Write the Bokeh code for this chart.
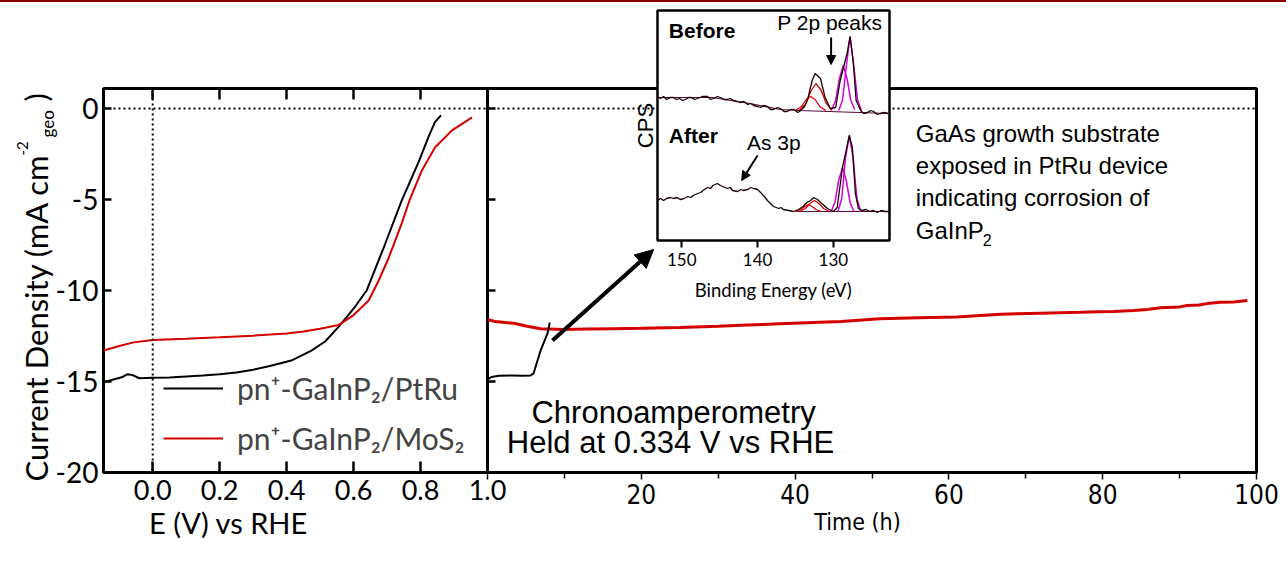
import math
from bokeh.plotting import figure
from bokeh.models import (Range1d, LinearAxis, FixedTicker, Span, Label, Legend, LegendItem,
                          Arrow, NormalHead, PrintfTickFormatter, Div)
from bokeh.embed import file_html
from bokeh.resources import INLINE

W, H = 1286, 563
MAIN_FONT = "Lato"
ARIAL = "Liberation Sans"
COND = "DejaVu Sans Condensed"
RED = "#d40000"
MAGENTA = "#d400d4"

# ---------------- J-V sweeps ----------------
jv_ptru_E = [-0.147, -0.12, -0.09, -0.075, -0.06, -0.04, 0.0, 0.05, 0.10, 0.15, 0.20, 0.25, 0.30,
             0.35, 0.414, 0.474, 0.515, 0.555, 0.60, 0.639, 0.693, 0.744, 0.795, 0.825, 0.843, 0.861]
jv_ptru_J = [-15.05, -14.9, -14.75, -14.6, -14.65, -14.82, -14.8, -14.78, -14.72, -14.67, -14.6,
             -14.5, -14.35, -14.15, -13.85, -13.3, -12.8, -12.0, -11.0, -10.0, -7.5, -5.05, -2.9,
             -1.5, -0.75, -0.38]

jv_mos2_E = [-0.147, -0.10, -0.057, 0.0, 0.10, 0.20, 0.30, 0.40, 0.45, 0.50, 0.555, 0.60, 0.645,
             0.675, 0.705, 0.744, 0.768, 0.804, 0.843, 0.894, 0.954]
jv_mos2_J = [-13.3, -13.05, -12.85, -12.72, -12.65, -12.57, -12.48, -12.36, -12.25, -12.1, -11.9,
             -11.35, -10.55, -9.45, -8.2, -6.3, -5.0, -3.4, -2.14, -1.2, -0.49]

E_ticks = [0.0, 0.2, 0.4, 0.6, 0.8, 1.0]
J_ticks = [0, -5, -10, -15, -20]

# ---------------- chronoamperometry ----------------
ca_ptru_t = [0, 0.5, 1.5, 3.0, 4.5, 5.6, 6.0, 6.9, 7.8, 8.1]
ca_ptru_J = [-14.9, -14.75, -14.68, -14.67, -14.68, -14.67, -14.55, -13.3, -12.36, -11.76]

ca_mos2_t = [0, 1, 2, 3.4, 5, 6.9, 9.9, 13, 16.4, 20, 25, 30, 33.8, 38, 42.4, 46, 51, 56, 61,
             66.7, 72, 77.1, 79.5, 81.4, 84, 85.8, 87.5, 90, 91, 92.5, 93.6, 95.3, 97, 98.8]
ca_mos2_J = [-11.6, -11.7, -11.75, -11.8, -11.95, -12.1, -12.14, -12.12, -12.1, -12.08, -12.03,
             -11.97, -11.9, -11.83, -11.76, -11.7, -11.55, -11.5, -11.45, -11.3, -11.25, -11.2,
             -11.17, -11.15, -11.1, -11.04, -10.95, -10.9, -10.82, -10.8, -10.72, -10.65, -10.63,
             -10.55]

t_ticks = [0, 20, 40, 60, 80, 100]
t_minor = [10, 30, 50, 70, 90]

# ---------------- XPS inset (P 2p region) ----------------
be_ticks = [150, 140, 130]

before_BE = [153.2, 152.8, 152.4, 152.0, 151.5, 151.1, 150.7, 150.3, 149.9, 149.5, 149.1, 148.8,
             148.3, 147.9, 147.3, 146.6, 146.2, 145.8, 145.3, 144.9, 144.4, 144.0, 143.6, 143.2,
             142.7, 142.3, 141.8, 141.3, 140.9, 140.5, 140.0, 139.6, 139.2, 138.7, 138.3, 137.9,
             137.4, 137.0, 136.5, 136.1, 135.6, 135.2, 134.7, 134.3, 133.8, 133.4, 132.8, 132.4,
             131.7, 131.1, 130.4, 129.7, 129.1, 128.6, 128.2, 127.8, 127.4, 127.0, 126.4, 126.0,
             125.5, 125.1, 124.7, 124.2, 123.8, 123.3, 122.8]
before_cps = [144, 142, 144, 141, 143, 143, 141, 142, 140, 141, 143, 143, 141, 142, 144, 144, 141,
              142, 144, 143, 141, 141, 142, 140, 139, 138, 139, 136, 137, 135, 134, 133, 135, 134,
              131, 131, 133, 132, 129, 129, 131, 131, 128, 130, 134, 141, 160, 167, 162, 143, 132,
              133, 160, 175, 187, 204, 180, 140, 130, 127, 128, 130, 129, 126, 127, 128, 127]
before_bg_BE = [153.2, 146.0, 141.0, 137.0, 134.5, 122.6]
before_bg_cps = [143, 143, 137, 131, 130, 127]
before_ox1_BE = [135.0, 134.2, 133.6, 133.0, 132.4, 131.8, 131.0]
before_ox1_cps = [130, 134, 141, 144, 141, 134, 130]
before_ox2_BE = [134.5, 133.6, 133.0, 132.3, 131.6, 131.0, 130.2]
before_ox2_cps = [130, 137, 149, 157, 150, 138, 130]
before_p1_BE = [130.2, 129.7, 129.2, 128.7, 128.2, 127.7, 127.2]
before_p1_cps = [131, 140, 162, 175, 162, 140, 131]
before_p2_BE = [129.3, 128.8, 128.3, 127.8, 127.3, 126.8, 126.3]
before_p2_cps = [130, 140, 174, 204, 174, 140, 130]

after_BE = [153.2, 152.8, 152.4, 152.0, 151.5, 151.1, 150.6, 150.2, 149.7, 149.2, 148.8, 148.5,
            147.9, 147.5, 147.2, 146.6, 146.2, 145.9, 145.3, 144.9, 144.6, 144.0, 143.6, 143.3,
            142.6, 142.2, 141.9, 141.3, 140.9, 140.5, 140.0, 139.6, 139.1, 138.7, 138.3, 137.9,
            137.2, 136.9, 136.6, 135.9, 135.3, 134.6, 134.0, 133.5, 133.0, 132.6, 132.1, 131.7,
            131.2, 130.8, 130.0, 129.5, 128.8, 128.4, 127.9, 127.5, 127.1, 126.7, 126.2, 125.7,
            125.2, 124.7, 124.2, 123.7, 123.2, 122.6]
after_cps = [40, 42, 40, 42, 43, 42, 43, 41, 42, 44, 43, 45, 47, 48, 50, 53, 52, 55, 57, 55, 54,
             52, 53, 50, 49, 51, 50, 51, 53, 52, 51, 48, 44, 40, 37, 34, 32, 33, 31, 30, 29, 31,
             34, 38, 40, 43, 41, 38, 35, 32, 29, 33, 73, 87, 105, 93, 47, 32, 30, 31, 29, 30, 28,
             30, 29, 29]
after_bg_BE = [135.0, 122.6]
after_bg_cps = [29, 29]
after_ox1_BE = [135.0, 134.3, 133.8, 133.3, 132.8, 132.3, 131.6]
after_ox1_cps = [29, 31, 34, 36, 34, 31, 29]
after_ox2_BE = [134.5, 133.7, 133.1, 132.5, 131.9, 131.3, 130.5]
after_ox2_cps = [29, 32, 37, 40, 37, 32, 29]
after_p1_BE = [130.3, 129.8, 129.3, 128.8, 128.3, 127.8, 127.3]
after_p1_cps = [29, 38, 60, 73, 60, 38, 29]
after_p2_BE = [129.4, 128.9, 128.4, 127.9, 127.4, 126.9, 126.4]
after_p2_cps = [29, 42, 83, 105, 83, 42, 29]


def style_axis(ax, font, size):
    ax.major_label_text_font = font
    ax.major_label_text_font_size = size
    ax.major_label_text_color = "black"
    ax.axis_label_text_font = font
    ax.axis_label_text_font_style = "normal"
    ax.axis_label_text_color = "black"


def pin(el, extra=None):
    # every panel shares the page origin; frames are placed through min_border
    st = {"position": "absolute", "left": "0px", "top": "0px"}
    if extra:
        st.update(extra)
    el.styles = st


# ====================== left panel: J-V ======================
left = figure(width=W, height=H, x_range=Range1d(-0.147, 1.0), y_range=Range1d(-20, 1.1),
              min_border_left=103, min_border_right=W - 487, min_border_top=88,
              min_border_bottom=H - 472, toolbar_location=None, output_backend="svg",
              background_fill_color="white", border_fill_color="white",
              outline_line_color="black", outline_line_width=3)
left.grid.visible = False

xb = left.xaxis[0]
xb.ticker = FixedTicker(ticks=E_ticks, minor_ticks=[])
xb.formatter = PrintfTickFormatter(format="%.1f")
style_axis(xb, MAIN_FONT, "27px")
xb.axis_line_color = None
xb.major_tick_in, xb.major_tick_out = 11, 0
xb.major_tick_line_width = 2.5
xb.major_label_standoff = 7

xt = LinearAxis(ticker=FixedTicker(ticks=E_ticks, minor_ticks=[]),
                major_label_overrides={t: "" for t in E_ticks},
                axis_line_color=None, major_tick_in=11, major_tick_out=0, major_tick_line_width=2.5)
left.add_layout(xt, "above")

yl = left.yaxis[0]
yl.ticker = FixedTicker(ticks=J_ticks, minor_ticks=[])
yl.formatter = PrintfTickFormatter(format="%d")
style_axis(yl, MAIN_FONT, "28px")
yl.axis_line_color = None
yl.major_tick_in, yl.major_tick_out = 8, 0
yl.major_tick_line_width = 2.5
yl.major_label_standoff = 5

left.add_layout(Span(location=0, dimension="width", line_color="black", line_width=2,
                     line_dash="2 3"))
left.add_layout(Span(location=0, dimension="height", line_color="black", line_width=2,
                     line_dash="2 3"))

r_ptru = left.line(jv_ptru_E, jv_ptru_J, line_color="black", line_width=2)
r_mos2 = left.line(jv_mos2_E, jv_mos2_J, line_color=RED, line_width=2)

legend = Legend(items=[LegendItem(label="pn\u207a-GaInP\u2082/PtRu", renderers=[r_ptru]),
                       LegendItem(label="pn\u207a-GaInP\u2082/MoS\u2082", renderers=[r_mos2])],
                location=(60, 16), glyph_width=60, glyph_height=30, label_standoff=14,
                label_text_font=MAIN_FONT, label_text_font_size="30px", spacing=14,
                padding=10, margin=0, border_line_color=None, background_fill_alpha=0)
left.add_layout(legend)

# ====================== right panel: chronoamperometry ======================
right = figure(width=W, height=H, x_range=Range1d(0, 100), y_range=Range1d(-20, 1.1),
               min_border_left=487, min_border_right=W - 1256, min_border_top=88,
               min_border_bottom=H - 472, toolbar_location=None, output_backend="svg",
               background_fill_color="white", border_fill_color=None,
               outline_line_color="black", outline_line_width=3)
right.grid.visible = False

xr = right.xaxis[0]
xr.ticker = FixedTicker(ticks=t_ticks, minor_ticks=t_minor)
xr.major_label_overrides = {0: ""}
style_axis(xr, COND, "26px")
xr.axis_line_color = None
xr.major_tick_in, xr.major_tick_out = 0, 7
xr.minor_tick_in, xr.minor_tick_out = 0, 6
xr.major_tick_line_width = 1.5
xr.minor_tick_line_width = 1.5
xr.major_label_standoff = 4

yr = right.yaxis[0]
yr.ticker = FixedTicker(ticks=J_ticks, minor_ticks=[])
yr.major_label_overrides = {t: "" for t in J_ticks}
yr.axis_line_color = None
yr.major_tick_in, yr.major_tick_out = 8, 0
yr.major_tick_line_width = 2.5

right.add_layout(Span(location=0, dimension="width", line_color="black", line_width=2,
                      line_dash="2 3"))
right.line(ca_mos2_t, ca_mos2_J, line_color=RED, line_width=3)
right.line(ca_ptru_t, ca_ptru_J, line_color="black", line_width=2)

right.add_layout(Arrow(end=NormalHead(size=18, fill_color="black", line_color="black"),
                       x_start=8.45, y_start=-12.75, x_end=21.6, y_end=-7.75,
                       line_color="black", line_width=4))

right.add_layout(Label(x=24.2, y=-16.7, text="Chronoamperometry", text_align="center",
                       text_baseline="middle", text_font=ARIAL, text_font_size="31px",
                       text_color="black"))
right.add_layout(Label(x=23.8, y=-18.35, text="Held at 0.334 V vs RHE", text_align="center",
                       text_baseline="middle", text_font=ARIAL, text_font_size="31px",
                       text_color="black"))

note_lines = ["GaAs growth substrate", "exposed in PtRu device", "indicating corrosion of", "GaInP"]
note_y = [-1.37, -3.13, -4.89, -6.7]
for txt, yy in zip(note_lines, note_y):
    right.add_layout(Label(x=55.7, y=yy, text=txt, text_align="left", text_baseline="middle",
                           text_font=ARIAL, text_font_size="24px", text_color="black"))
right.add_layout(Label(x=64.4, y=-7.2, text="2", text_align="left", text_baseline="middle",
                       text_font=ARIAL, text_font_size="16px", text_color="black"))

# ====================== XPS inset ======================
inset = figure(width=W, height=H, x_range=Range1d(153.2, 122.6), y_range=Range1d(0, 230),
               min_border_left=657, min_border_right=W - 889, min_border_top=10,
               min_border_bottom=H - 240, toolbar_location=None, output_backend="svg",
               background_fill_color="white", border_fill_color=None,
               outline_line_color="black", outline_line_width=2.5)
inset.grid.visible = False
xi = inset.xaxis[0]
xi.ticker = FixedTicker(ticks=be_ticks, minor_ticks=[])
xi.axis_label = "Binding Energy (eV)"
style_axis(xi, MAIN_FONT, "17px")
xi.axis_label_text_font_size = "18.5px"
xi.axis_line_color = None
xi.major_tick_in, xi.major_tick_out = 0, 7
xi.major_tick_line_width = 2
xi.major_label_standoff = 5
xi.axis_label_standoff = 10
yi = inset.yaxis[0]
yi.ticker = FixedTicker(ticks=[], minor_ticks=[])
yi.axis_line_color = None
yi.axis_label = "CPS"
yi.axis_label_text_font = ARIAL
yi.axis_label_text_font_style = "normal"
yi.axis_label_text_color = "black"
yi.axis_label_text_font_size = "22px"
yi.axis_label_standoff = 0

for bx, by in [(before_bg_BE, before_bg_cps), (after_bg_BE, after_bg_cps)]:
    inset.line(bx, by, line_color="#5a0a3a", line_width=1.2)
for bx, by in [(before_ox1_BE, before_ox1_cps), (before_ox2_BE, before_ox2_cps),
               (after_ox1_BE, after_ox1_cps), (after_ox2_BE, after_ox2_cps)]:
    inset.line(bx, by, line_color="#e00000", line_width=1.3)
for bx, by in [(before_p1_BE, before_p1_cps), (before_p2_BE, before_p2_cps),
               (after_p1_BE, after_p1_cps), (after_p2_BE, after_p2_cps)]:
    inset.line(bx, by, line_color=MAGENTA, line_width=1.5)
inset.line(before_BE, before_cps, line_color="#1a0000", line_width=1.3)
inset.line(after_BE, after_cps, line_color="#1a0000", line_width=1.3)

for txt, bx, cy, style in [("Before", 151.7, 210, "bold"), ("After", 151.7, 105, "bold"),
                           ("P 2p peaks", 137.4, 218, "normal"), ("As 3p", 141.4, 98, "normal")]:
    inset.add_layout(Label(x=bx, y=cy, text=txt, text_align="left", text_baseline="middle",
                           text_font=ARIAL, text_font_style=style, text_font_size="21px",
                           text_color="black"))
inset.add_layout(Arrow(end=NormalHead(size=9, fill_color="black", line_color="black"),
                       x_start=130.3, y_start=203, x_end=130.3, y_end=176,
                       line_color="black", line_width=2))
inset.add_layout(Arrow(end=NormalHead(size=9, fill_color="black", line_color="black"),
                       x_start=140.0, y_start=85, x_end=142.1, y_end=60,
                       line_color="black", line_width=2))

# ====================== page overlay: titles set in page pixels ======================
page = figure(width=W, height=H, x_range=Range1d(0, W), y_range=Range1d(0, H), min_border=0,
              toolbar_location=None, output_backend="svg", x_axis_location=None,
              y_axis_location=None, background_fill_color=None, border_fill_color=None,
              outline_line_color=None)
page.grid.visible = False


def page_text(txt, x, y, size, font=MAIN_FONT, align="left", angle=0.0):
    page.add_layout(Label(x=x, y=H - y, text=txt, angle=angle, text_align=align,
                          text_baseline="middle", text_font=font, text_font_size=size,
                          text_color="black"))


up = math.pi / 2
page_text("Current Density (mA cm", 35, 481, "31px", angle=up)
page_text("-2", 22, 155, "15px", angle=up)
page_text("geo", 47, 137, "17px", angle=up)
page_text(")", 35, 101, "31px", angle=up)
page_text("E (V) vs RHE", 228, 522, "29px", align="center")
page_text("Time (h)", 857, 521, "23px", font=COND, align="center")

# thin dark-red rule along the top edge of the page
rule = Div(text="", width=W, height=2)

roots = [left, right, inset, page, rule]
for el in roots:
    pin(el)
pin(rule, {"background-color": "#8b0000", "margin": "0px", "padding": "0px",
           "height": "2px", "overflow": "hidden"})

open("out.html", "w").write(file_html(roots, INLINE))
